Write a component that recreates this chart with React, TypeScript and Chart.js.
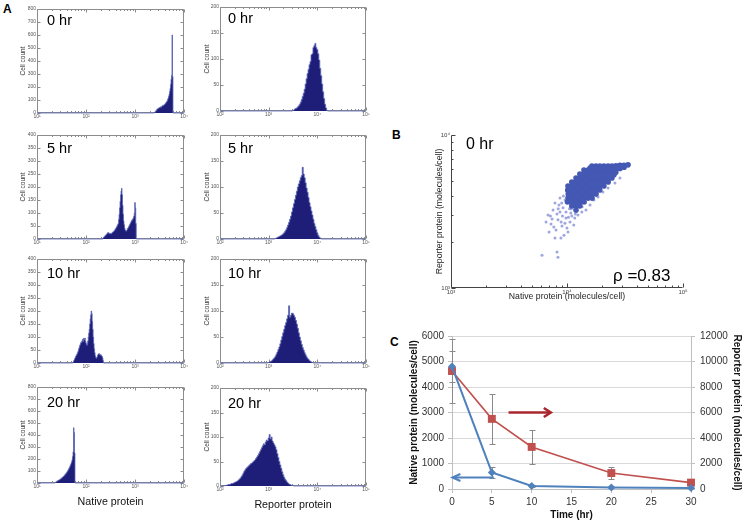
import React, { useEffect, useRef } from 'react';
import { Chart, registerables } from 'chart.js';

Chart.register(...registerables);

const FONT = "'Liberation Sans', Arial, Helvetica, sans-serif";
Chart.defaults.font.family = FONT;
Chart.defaults.color = '#333';

// ---------------- Panel A : histograms (counts per log10 bin) ----------------
const nativeRange = [10, 10000];
const reporterRange = [100, 100000];
const timeLabels = ['0 hr', '5 hr', '10 hr', '20 hr'];

const native0hr = {
  logStart: 3.4, logStep: 0.01,
  counts: [3, 8, 12, 18, 22, 28, 30, 34, 36, 38, 42, 40, 46, 48, 45, 52, 55, 58, 56, 62, 65, 68, 72, 78, 82, 88, 95, 105, 115, 128, 145, 165, 190, 220, 260, 290, 600, 280, 0],
};
const native5hr = {
  logStart: 2.35, logStep: 0.01,
  counts: [4, 6, 8, 10, 12, 14, 16, 18, 20, 22, 25, 24, 22, 20, 22, 19, 21, 20, 23, 25, 27, 28, 30, 32, 35, 38, 41, 44, 48, 52, 56, 60, 75, 95, 120, 145, 170, 185, 195, 170, 130, 95, 70, 55, 42, 35, 32, 30, 33, 36, 40, 42, 46, 50, 54, 58, 62, 66, 70, 72, 75, 78, 82, 88, 100, 140, 120, 60, 0],
};
const native10hr = {
  logStart: 1.74, logStep: 0.01,
  counts: [4, 8, 12, 16, 20, 25, 28, 32, 35, 40, 45, 52, 58, 65, 70, 75, 80, 78, 85, 90, 82, 95, 88, 92, 96, 85, 78, 72, 68, 75, 85, 100, 115, 130, 150, 170, 185, 200, 190, 160, 130, 100, 75, 55, 40, 28, 22, 18, 20, 25, 30, 35, 34, 36, 32, 30, 33, 30, 28, 25, 20, 10, 0],
};
const native20hr = {
  logStart: 1.37, logStep: 0.01,
  counts: [3, 6, 9, 12, 15, 18, 20, 22, 25, 28, 30, 33, 36, 40, 43, 47, 50, 54, 58, 63, 68, 73, 78, 84, 90, 96, 103, 110, 118, 126, 135, 145, 155, 166, 178, 195, 220, 260, 460, 420, 250, 0],
};
const reporter0hr = {
  logStart: 3.5, logStep: 0.02,
  counts: [1, 2, 4, 5, 6, 8, 10, 13, 17, 22, 28, 34, 42, 52, 62, 72, 80, 89, 95, 108, 110, 122, 126, 130, 122, 118, 110, 98, 82, 68, 52, 37, 24, 13, 6, 1, 0],
};
const reporter5hr = {
  logStart: 3.14, logStep: 0.02,
  counts: [1, 2, 3, 4, 5, 6, 7, 8, 10, 12, 15, 18, 22, 27, 32, 38, 44, 52, 60, 68, 76, 84, 92, 100, 106, 112, 118, 122, 138, 125, 118, 108, 98, 90, 80, 70, 62, 54, 46, 38, 30, 24, 18, 12, 7, 4, 2, 0],
};
const reporter10hr = {
  logStart: 3.0, logStep: 0.02,
  counts: [1, 2, 3, 4, 6, 8, 10, 13, 17, 21, 26, 31, 37, 44, 51, 58, 65, 72, 78, 85, 92, 110, 88, 92, 96, 95, 92, 88, 82, 75, 67, 58, 50, 43, 36, 30, 25, 20, 16, 12, 9, 7, 5, 3, 2, 1, 0],
};
const reporter20hr = {
  logStart: 2.1, logStep: 0.02,
  counts: [1, 1, 2, 2, 3, 3, 4, 5, 5, 6, 7, 8, 9, 10, 12, 14, 16, 19, 22, 26, 30, 33, 36, 38, 40, 42, 44, 46, 47, 49, 51, 53, 56, 59, 62, 66, 70, 74, 78, 82, 86, 84, 90, 94, 92, 98, 105, 96, 100, 92, 88, 84, 80, 74, 66, 58, 50, 43, 36, 29, 23, 18, 14, 11, 8, 6, 4, 3, 2, 1, 1, 0],
};
const nativeYMax = [800, 400, 400, 800];
const nativeYStep = [100, 50, 50, 100];
const reporterYMax = [200, 200, 200, 200];
const reporterYStep = [50, 50, 50, 50];

// ---------------- Panel B : scatter at 0 hr (native, reporter) ----------------
const scatterCore: [number, number][] = [
  [10200, 4640], [10150, 4370], [10250, 4110], [10200, 3870], [10100, 3650],
  [11000, 4930], [11050, 4640], [10950, 4370], [11000, 4110], [11100, 3870], [10950, 3650], [11000, 3440],
  [11960, 5240], [11900, 4930], [12000, 4640], [11950, 4370], [12050, 4110], [11960, 3870], [11900, 3650], [12000, 3440], [11950, 3230],
  [12900, 5560], [12950, 5240], [12850, 4930], [12900, 4640], [12950, 4370], [12900, 4110], [12850, 3870], [12950, 3650], [12900, 3440],
  [14000, 5900], [14050, 5560], [13950, 5240], [14000, 4930], [14050, 4640], [14000, 4370], [13950, 4110], [14000, 3870], [14050, 3650],
  [15200, 5900], [15150, 5560], [15250, 5240], [15200, 4930], [15150, 4640], [15200, 4370], [15250, 4110], [15200, 3870],
  [16400, 6270], [16450, 5900], [16350, 5560], [16400, 5240], [16450, 4930], [16400, 4640], [16350, 4370], [16400, 4110], [16450, 3870],
  [17800, 6270], [17850, 5900], [17750, 5560], [17800, 5240], [17850, 4930], [17800, 4640], [17750, 4370], [17800, 4110],
  [19200, 6270], [19250, 5900], [19150, 5560], [19200, 5240], [19250, 4930], [19200, 4640], [19150, 4370],
  [20800, 6270], [20850, 5900], [20750, 5560], [20800, 5240], [20850, 4930], [20800, 4640],
  [22600, 6270], [22650, 5900], [22550, 5560], [22600, 5240], [22650, 4930],
  [24400, 6270], [24450, 5900], [24350, 5560], [24400, 5240],
  [26400, 6300], [26450, 6000], [26350, 5700],
  [28600, 6330], [28650, 6050],
  [31000, 6350], [31050, 6150],
  [33600, 6380],
  [10600, 4500], [11500, 4780], [11500, 4240], [11500, 3760], [12400, 5050], [12400, 4500], [12400, 3990], [12400, 3540],
  [13450, 5400], [13450, 4780], [13450, 4240], [13450, 3760], [14600, 5730], [14600, 5070], [14600, 4500], [14600, 3990],
  [15800, 6080], [15800, 5400], [15800, 4780], [15800, 4240], [17100, 6080], [17100, 5400], [17100, 4780], [17100, 4240],
  [18500, 6080], [18500, 5400], [18500, 4780], [20000, 6080], [20000, 5400], [20000, 4780], [21700, 6080], [21700, 5400],
  [23500, 6080], [23500, 5400], [25400, 6100], [25400, 5500], [27500, 6180], [29800, 6250],
];
const scatterSparse: [number, number][] = [
  [6860, 3000], [7280, 2620], [7580, 3230], [8040, 2390], [8360, 2790], [8700, 3140], [9050, 2540], [9420, 2215],
  [7880, 2120], [9800, 2870], [7000, 2320], [7430, 2830], [8530, 3490], [9240, 3340], [8200, 3050], [8870, 2120],
  [9990, 2465], [10610, 2700], [11000, 2960], [11670, 2870], [9610, 3755], [8700, 3870], [7880, 3595], [9800, 3140],
  [10780, 3095], [12440, 3000], [13420, 3140], [14570, 3230], [15810, 3490], [17060, 3760], [18520, 3930], [20370, 4240],
  [22600, 4500], [25890, 4860], [28600, 5240], [10200, 2320], [11440, 2580], [6090, 1640], [8200, 1720], [8360, 1590],
  [9300, 4000], [9900, 4300], [9000, 3600], [8400, 3300], [10500, 3300], [7700, 2500], [8900, 2700], [9600, 2650],
  [10900, 3300], [12200, 3200], [13500, 3400], [6600, 2700], [7200, 2950], [9150, 2950], [10300, 2900], [11800, 3050],
];
const scatterRho = 'ρ =0.83';

// ---------------- Panel C : time course ----------------
const timeHr = [0, 5, 10, 20, 30];
const nativeMean = [4800, 650, 120, 60, 40];
const nativeErr = [600, 220, 40, 20, 15];
const reporterMean = [9250, 5500, 3300, 1250, 500];
const reporterErr = [2500, 1950, 1300, 500, 150];
const reporterArrow = { from: 7.1, to: 12.4, level: 6000 };
const nativeArrow = { from: 5.25, to: 0.05, level: 450 };

// ---------------- helpers ----------------
const sup: Record<number, string> = { 0: '⁰', 1: '¹', 2: '²', 3: '³', 4: '⁴', 5: '⁵' };
const pow10Label = (v: number) => '10' + sup[Math.round(Math.log10(v))];

function logDecadeTicks(min: number, max: number) {
  const major: number[] = [];
  const minor: number[] = [];
  const e0 = Math.round(Math.log10(min));
  const e1 = Math.round(Math.log10(max));
  for (let e = e0; e <= e1; e++) {
    const p = Math.pow(10, e);
    major.push(p);
    if (e < e1) for (let m = 2; m <= 9; m++) minor.push(m * p);
  }
  return { major, minor };
}

const framePlugin = {
  id: 'frame',
  beforeDatasetsDraw(chart: any, _a: any, opts: any) {
    if (!opts || !opts.on) return;
    const { ctx, chartArea: a } = chart;
    const xs = chart.scales.x;
    const ys = chart.scales.y;
    ctx.save();
    ctx.lineWidth = 1;
    ctx.strokeStyle = opts.color;
    const L = Math.round(a.left) + 0.5;
    const R = Math.round(a.right) - 0.5;
    const T = Math.round(a.top) + 0.5;
    const B = Math.round(a.bottom) - 0.5;
    ctx.beginPath();
    if (opts.box) ctx.rect(L, T, R - L, B - T);
    else { ctx.moveTo(L, T); ctx.lineTo(L, B); ctx.lineTo(R, B); }
    ctx.stroke();
    const xt = xs.type === 'logarithmic' ? logDecadeTicks(xs.min, xs.max) : { major: xs.ticks.map((t: any) => t.value), minor: [] };
    const yt = ys.type === 'logarithmic' ? logDecadeTicks(ys.min, ys.max) : { major: ys.ticks.map((t: any) => t.value), minor: [] };
    ctx.beginPath();
    const vx = (v: number, len: number) => {
      const p = Math.round(xs.getPixelForValue(v)) + 0.5;
      ctx.moveTo(p, B); ctx.lineTo(p, B - len);
      if (opts.box) { ctx.moveTo(p, T); ctx.lineTo(p, T + len); }
    };
    const vy = (v: number, len: number) => {
      const p = Math.round(ys.getPixelForValue(v)) + 0.5;
      ctx.moveTo(L, p); ctx.lineTo(L + len, p);
      if (opts.box) { ctx.moveTo(R, p); ctx.lineTo(R - len, p); }
    };
    xt.major.forEach((v: number) => vx(v, opts.major));
    xt.minor.forEach((v: number) => vx(v, opts.minor));
    yt.major.forEach((v: number) => vy(v, opts.major));
    yt.minor.forEach((v: number) => vy(v, opts.minor));
    ctx.stroke();
    ctx.restore();
  },
  afterDatasetsDraw(chart: any, _a: any, opts: any) {
    if (!opts || !opts.on || !opts.texts) return;
    const { ctx, chartArea: a } = chart;
    ctx.save();
    ctx.fillStyle = '#000';
    ctx.textBaseline = 'alphabetic';
    ctx.textAlign = 'left';
    opts.texts.forEach((t: any) => {
      ctx.font = `${t.size}px ${FONT}`;
      ctx.fillText(t.text, a.left + t.dx, a.top + t.dy);
    });
    ctx.restore();
  },
};
Chart.register(framePlugin);

function histogramConfig(h: any, range: number[], yMax: number, yStep: number, label: string, labelDy: number, labelDx: number, yAxisW: number, titlePad: number, xTitle: string | null, xAxisH: number) {
  const [lo, hi] = range;
  const pts: any[] = [{ x: lo, y: 0 }, { x: Math.pow(10, h.logStart - h.logStep), y: 0 }];
  h.counts.forEach((c: number, i: number) => pts.push({ x: Math.pow(10, h.logStart + i * h.logStep), y: c }));
  pts.push({ x: hi, y: 0 });
  return {
    type: 'line',
    data: {
      datasets: [{
        data: pts, stepped: 'middle', fill: 'origin', backgroundColor: '#1e1e78', borderColor: '#5a66b8',
        borderWidth: 0.8, pointRadius: 0, clip: false,
      }],
    },
    options: {
      animation: false, responsive: false, devicePixelRatio: 1, events: [],
      layout: { padding: { top: 4, right: 5, left: 0, bottom: 0 } },
      plugins: {
        legend: { display: false }, tooltip: { enabled: false },
        frame: { on: true, box: true, color: '#8c8c8c', major: 3, minor: 1.5, texts: [{ text: label, dx: labelDx, dy: labelDy, size: 14.5 }] },
      },
      scales: {
        x: {
          type: 'logarithmic', min: lo, max: hi,
          grid: { display: false, drawTicks: false }, border: { display: false },
          afterBuildTicks: (s: any) => { s.ticks = logDecadeTicks(lo, hi).major.map((v) => ({ value: v })); },
          ticks: { callback: (v: any) => pow10Label(Number(v)), font: { size: 5 }, color: '#555', padding: 1, autoSkip: false, maxRotation: 0, minRotation: 0 },
          title: xTitle ? { display: true, text: xTitle, font: { size: 10.7 }, color: '#111', padding: { top: 0, bottom: 1 } } : { display: false },
          afterFit: (s: any) => { s.height = xAxisH; s.paddingLeft = 0; s.paddingRight = 0; },
        },
        y: {
          min: 0, max: yMax,
          grid: { display: false, drawTicks: false }, border: { display: false },
          ticks: { stepSize: yStep, font: { size: 5 }, color: '#555', padding: 1, autoSkip: false, callback: (v: any) => String(v) },
          title: { display: true, text: 'Cell count', font: { size: 6.5 }, color: '#333', padding: { top: titlePad, bottom: 0 } },
          afterFit: (s: any) => { s.width = yAxisW; s.paddingTop = 0; s.paddingBottom = 0; },
        },
      },
    },
  };
}

function scatterConfig() {
  return {
    type: 'scatter',
    data: {
      datasets: [
        { data: scatterCore.map(([x, y]) => ({ x, y })), pointRadius: 2.8, borderWidth: 0, backgroundColor: 'rgb(68,88,180)', clip: false },
        { data: scatterSparse.map(([x, y]) => ({ x, y })), pointRadius: 1.5, borderWidth: 0, backgroundColor: 'rgba(95,110,200,0.6)', clip: false },
      ],
    },
    options: {
      animation: false, responsive: false, devicePixelRatio: 1, events: [],
      layout: { padding: { top: 6, right: 12, left: 0, bottom: 0 } },
      plugins: {
        legend: { display: false }, tooltip: { enabled: false },
        frame: { on: true, box: false, color: '#444', major: 4, minor: 2, texts: [{ text: '0 hr', dx: 15, dy: 14, size: 16 }, { text: scatterRho, dx: 162, dy: 146, size: 17 }] },
      },
      scales: {
        x: {
          type: 'logarithmic', min: 1000, max: 100000,
          grid: { display: false, drawTicks: false }, border: { display: false },
          afterBuildTicks: (s: any) => { s.ticks = [1000, 10000, 100000].map((v) => ({ value: v })); },
          ticks: { callback: (v: any) => pow10Label(Number(v)), font: { size: 6 }, color: '#444', padding: 1, autoSkip: false, maxRotation: 0, minRotation: 0 },
          title: { display: true, text: 'Native protein (molecules/cell)', font: { size: 8.7 }, color: '#222', padding: { top: 0, bottom: 1.8 } },
          afterFit: (s: any) => { s.height = 16; s.paddingLeft = 0; s.paddingRight = 0; },
        },
        y: {
          type: 'logarithmic', min: 1000, max: 10000,
          grid: { display: false, drawTicks: false }, border: { display: false },
          afterBuildTicks: (s: any) => { s.ticks = [1000, 10000].map((v) => ({ value: v })); },
          ticks: { callback: (v: any) => pow10Label(Number(v)), font: { size: 6 }, color: '#444', padding: 1, autoSkip: false },
          title: { display: true, text: 'Reporter protein (molecules/cell)', font: { size: 8.7 }, color: '#222', padding: { top: 1.8, bottom: 0 } },
          afterFit: (s: any) => { s.width = 18; s.paddingTop = 0; s.paddingBottom = 0; },
        },
      },
    },
  };
}

const errorBarPlugin = {
  id: 'errorBarsArrows',
  beforeDatasetsDraw(chart: any) {
    const { ctx, scales } = chart;
    ctx.save();
    ctx.strokeStyle = '#8a8a8a';
    ctx.lineWidth = 1;
    const draw = (means: number[], errs: number[], axis: string) => {
      means.forEach((m, i) => {
        const x = Math.round(scales.x.getPixelForValue(timeHr[i])) + 0.5;
        const y1 = Math.round(scales[axis].getPixelForValue(m + errs[i])) + 0.5;
        const y2 = Math.round(scales[axis].getPixelForValue(Math.max(0, m - errs[i]))) + 0.5;
        ctx.beginPath();
        ctx.moveTo(x, y1); ctx.lineTo(x, y2);
        ctx.moveTo(x - 3, y1); ctx.lineTo(x + 3, y1);
        ctx.moveTo(x - 3, y2); ctx.lineTo(x + 3, y2);
        ctx.stroke();
      });
    };
    draw(reporterMean, reporterErr, 'yR');
    draw(nativeMean, nativeErr, 'yL');
    ctx.restore();
  },
  afterDatasetsDraw(chart: any) {
    const { ctx, scales } = chart;
    const arrow = (a: any, axis: string, color: string, width: number, len: number, half: number) => {
      const x1 = scales.x.getPixelForValue(a.from);
      const x2 = scales.x.getPixelForValue(a.to);
      const y = scales[axis].getPixelForValue(a.level);
      const dir = Math.sign(x2 - x1);
      ctx.save();
      ctx.strokeStyle = color;
      ctx.lineWidth = width;
      ctx.lineJoin = 'miter';
      ctx.beginPath();
      ctx.moveTo(x1, y); ctx.lineTo(x2 - dir * 1, y);
      ctx.stroke();
      ctx.beginPath();
      ctx.moveTo(x2 - dir * len, y - half); ctx.lineTo(x2, y); ctx.lineTo(x2 - dir * len, y + half);
      ctx.stroke();
      ctx.restore();
    };
    arrow(reporterArrow, 'yR', '#a8262c', 2.6, 7, 4.5);
    arrow(nativeArrow, 'yL', '#4f81bd', 2, 8, 3.5);
  },
};

function timeCourseConfig() {
  return {
    type: 'line',
    data: {
      datasets: [
        {
          data: timeHr.map((t, i) => ({ x: t, y: nativeMean[i] })), yAxisID: 'yL',
          borderColor: '#4f81bd', backgroundColor: '#4f81bd', borderWidth: 2, tension: 0,
          pointStyle: 'rectRot', pointRadius: 4, pointBorderWidth: 0, clip: false,
        },
        {
          data: timeHr.map((t, i) => ({ x: t, y: reporterMean[i] })), yAxisID: 'yR',
          borderColor: '#c0504d', backgroundColor: '#c0504d', borderWidth: 1.6, tension: 0,
          pointStyle: 'rect', pointRadius: 5.6, pointBorderWidth: 0, clip: false,
        },
      ],
    },
    plugins: [errorBarPlugin],
    options: {
      animation: false, responsive: false, devicePixelRatio: 1, events: [],
      layout: { padding: { top: 6, right: 0, left: 0, bottom: 0 } },
      plugins: { legend: { display: false }, tooltip: { enabled: false } },
      scales: {
        x: {
          type: 'linear', min: 0, max: 30,
          grid: { drawOnChartArea: false, drawTicks: true, tickLength: 4, tickColor: '#bfbfbf' },
          border: { display: true, color: '#bfbfbf' },
          ticks: { stepSize: 5, font: { size: 10 }, color: '#333', padding: 3, maxRotation: 0, callback: (v: any) => String(v) },
          title: { display: true, text: 'Time (hr)', font: { size: 10, weight: 'bold' }, color: '#111', padding: { top: 0, bottom: 3 } },
          afterFit: (s: any) => { s.height = 35; s.paddingLeft = 0; s.paddingRight = 0; },
        },
        yL: {
          position: 'left', min: 0, max: 6000,
          grid: { drawOnChartArea: true, color: '#d9d9d9', drawTicks: true, tickLength: 4, tickColor: '#bfbfbf' },
          border: { display: true, color: '#bfbfbf' },
          ticks: { stepSize: 1000, font: { size: 10 }, color: '#333', padding: 4, callback: (v: any) => String(v) },
          title: { display: true, text: 'Native protein (molecules/cell)', font: { size: 10, weight: 'bold' }, color: '#111', padding: { top: 3, bottom: 0 } },
          afterFit: (s: any) => { s.width = 47; s.paddingTop = 0; s.paddingBottom = 0; },
        },
        yR: {
          position: 'right', min: 0, max: 12000,
          grid: { drawOnChartArea: false, drawTicks: true, tickLength: 4, tickColor: '#bfbfbf' },
          border: { display: true, color: '#bfbfbf' },
          ticks: { stepSize: 2000, font: { size: 10 }, color: '#333', padding: 5, callback: (v: any) => String(v) },
          title: { display: true, text: 'Reporter protein (molecules/cell)', font: { size: 10, weight: 'bold' }, color: '#111', padding: { top: 1, bottom: 0 } },
          afterFit: (s: any) => { s.width = 53; s.paddingTop = 0; s.paddingBottom = 0; },
        },
      },
    },
  };
}

function ChartCanvas({ box, make }: { box: { left: number; top: number; width: number; height: number }; make: () => any }) {
  const ref = useRef<HTMLCanvasElement>(null);
  useEffect(() => {
    const chart = new Chart(ref.current as HTMLCanvasElement, make());
    return () => chart.destroy();
  }, []);
  return (
    <canvas
      ref={ref}
      width={box.width}
      height={box.height}
      style={{ position: 'absolute', left: box.left, top: box.top, width: box.width, height: box.height }}
    />
  );
}

// plot rectangles (layout only)
const leftRows = [{ t: 9, b: 113 }, { t: 135, b: 239 }, { t: 259, b: 363 }, { t: 387, b: 483 }];
const rightRows = [{ t: 7, b: 111 }, { t: 135, b: 239 }, { t: 259, b: 363 }, { t: 388, b: 486 }];
const labelDys = [16, 18, 19, 20];

export default function App() {
  const nativeSets = [native0hr, native5hr, native10hr, native20hr];
  const reporterSets = [reporter0hr, reporter5hr, reporter10hr, reporter20hr];
  const labelStyle: React.CSSProperties = { position: 'absolute', fontFamily: FONT, fontWeight: 'bold', fontSize: 12, lineHeight: '12px', color: '#000' };
  return (
    <div style={{ position: 'absolute', left: 0, top: 0, width: 744, height: 524, background: '#fff', overflow: 'hidden' }}>
      {nativeSets.map((h, i) => {
        const r = leftRows[i];
        const xh = i === 3 ? 26 : 10;
        const box = { left: 15, top: r.t - 4, width: 184 - 15 + 5, height: r.b - r.t + 4 + xh };
        return (
          <ChartCanvas
            key={'n' + i}
            box={box}
            make={() => histogramConfig(h, nativeRange, nativeYMax[i], nativeYStep[i], timeLabels[i], labelDys[i], 10, 22, 4.1, i === 3 ? 'Native protein' : null, xh)}
          />
        );
      })}
      {reporterSets.map((h, i) => {
        const r = rightRows[i];
        const xh = i === 3 ? 26 : 10;
        const box = { left: 202, top: r.t - 4, width: 366 - 202 + 5, height: r.b - r.t + 4 + xh };
        return (
          <ChartCanvas
            key={'r' + i}
            box={box}
            make={() => histogramConfig(h, reporterRange, reporterYMax[i], reporterYStep[i], timeLabels[i], labelDys[i], 8, 18, 1.1, i === 3 ? 'Reporter protein' : null, xh)}
          />
        );
      })}
      <ChartCanvas box={{ left: 433, top: 129, width: 262, height: 175 }} make={scatterConfig} />
      <ChartCanvas box={{ left: 405, top: 330, width: 339, height: 194 }} make={timeCourseConfig} />
      <div style={{ ...labelStyle, left: 3, top: 3 }}>A</div>
      <div style={{ ...labelStyle, left: 392, top: 129 }}>B</div>
      <div style={{ ...labelStyle, left: 390, top: 336 }}>C</div>
    </div>
  );
}
